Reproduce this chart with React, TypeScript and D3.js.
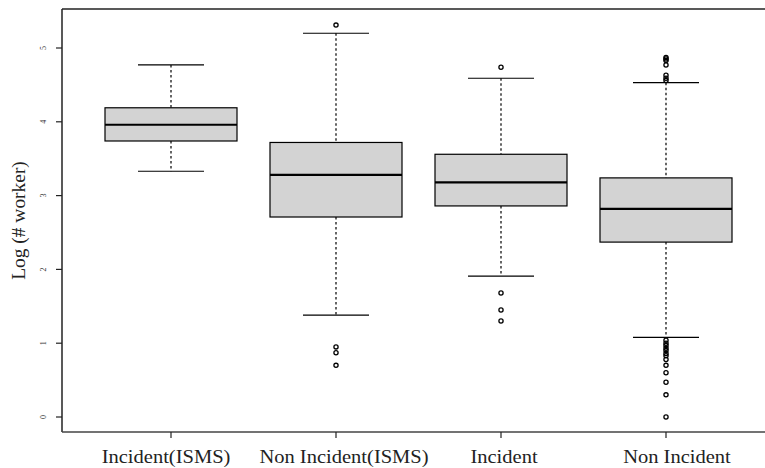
import React from "react";
import * as d3 from "d3";

// Box-plot summary statistics per group (log scale of worker count)
const categories = ["Incident(ISMS)", "Non Incident(ISMS)", "Incident", "Non Incident"];
const whiskerLow = [3.33, 1.38, 1.91, 1.08];
const q1 = [3.74, 2.71, 2.86, 2.37];
const median = [3.96, 3.28, 3.18, 2.82];
const q3 = [4.19, 3.72, 3.56, 3.24];
const whiskerHigh = [4.77, 5.2, 4.59, 4.53];
const outliers: number[][] = [
  [],
  [5.31, 0.95, 0.87, 0.7],
  [4.74, 1.68, 1.45, 1.3],
  [4.87, 4.85, 4.83, 4.77, 4.63, 4.59, 4.56,
   1.04, 1.0, 0.97, 0.93, 0.9, 0.86, 0.83, 0.78, 0.7, 0.6, 0.47, 0.3, 0.0],
];
const yTicks = [0, 1, 2, 3, 4, 5];
const yLabel = "Log (# worker)";

const W = 765;
const H = 468;
const left = 62;
const top = 9;
const bottom = 432;

export default function App() {
  const y = d3.scaleLinear().domain([0, 5]).range([417, 48]);
  const x = d3
    .scalePoint<string>()
    .domain(categories)
    .range([171, 666]);
  const halfBox = 66;
  const halfCap = 33;
  const labelShift = [-5, 8, 3, 11];
  const font = "'Liberation Serif', 'Times New Roman', serif";

  return (
    <svg
      width={W}
      height={H}
      style={{ position: "absolute", left: 0, top: 0, background: "#fff" }}
    >
      {/* frame: top, left and bottom lines */}
      <line x1={left} x2={W} y1={top} y2={top} stroke="#222" strokeWidth={1.5} />
      <line x1={left} x2={left} y1={top} y2={bottom} stroke="#222" strokeWidth={1.5} />
      <line x1={left} x2={W} y1={bottom} y2={bottom} stroke="#444" strokeWidth={1.5} />

      {/* y axis ticks */}
      {yTicks.map((t) => (
        <g key={t}>
          <line x1={left - 6} x2={left} y1={y(t)} y2={y(t)} stroke="#222" strokeWidth={1.2} />
          <text
            transform={`translate(${left - 16},${y(t)}) rotate(-90)`}
            textAnchor="middle"
            fontSize={8}
            fontFamily={font}
            fill="#333"
          >
            {t}
          </text>
        </g>
      ))}

      <text
        transform={`translate(25,${(top + bottom) / 2}) rotate(-90) scale(1.08,1)`}
        textAnchor="middle"
        fontSize={18}
        fontFamily={font}
        fill="#222"
      >
        {yLabel}
      </text>

      {/* x axis ticks and labels */}
      {categories.map((c, i) => (
        <g key={c}>
          <line x1={x(c)!} x2={x(c)!} y1={bottom} y2={bottom + 6} stroke="#222" strokeWidth={1.2} />
          <text
            transform={`translate(${x(c)! + labelShift[i]},463) scale(1.08,1)`}
            textAnchor="middle"
            fontSize={19}
            fontFamily={font}
            fill="#222"
          >
            {c}
          </text>
        </g>
      ))}

      {/* boxes */}
      {categories.map((c, i) => {
        const cx = x(c)!;
        return (
          <g key={c}>
            <line
              x1={cx}
              x2={cx}
              y1={y(whiskerHigh[i])}
              y2={y(q3[i])}
              stroke="#000"
              strokeWidth={1.2}
              strokeDasharray="2.5,2.5"
            />
            <line
              x1={cx}
              x2={cx}
              y1={y(q1[i])}
              y2={y(whiskerLow[i])}
              stroke="#000"
              strokeWidth={1.2}
              strokeDasharray="2.5,2.5"
            />
            <line
              x1={cx - halfCap}
              x2={cx + halfCap}
              y1={y(whiskerHigh[i])}
              y2={y(whiskerHigh[i])}
              stroke="#000"
              strokeWidth={1.2}
            />
            <line
              x1={cx - halfCap}
              x2={cx + halfCap}
              y1={y(whiskerLow[i])}
              y2={y(whiskerLow[i])}
              stroke="#000"
              strokeWidth={1.2}
            />
            <rect
              x={cx - halfBox}
              y={y(q3[i])}
              width={halfBox * 2}
              height={y(q1[i]) - y(q3[i])}
              fill="#d3d3d3"
              stroke="#000"
              strokeWidth={1.2}
            />
            <line
              x1={cx - halfBox}
              x2={cx + halfBox}
              y1={y(median[i])}
              y2={y(median[i])}
              stroke="#000"
              strokeWidth={2.2}
            />
            {outliers[i].map((v, j) => (
              <circle
                key={j}
                cx={cx}
                cy={y(v)}
                r={2.1}
                fill="none"
                stroke="#000"
                strokeWidth={1.3}
              />
            ))}
          </g>
        );
      })}
    </svg>
  );
}
